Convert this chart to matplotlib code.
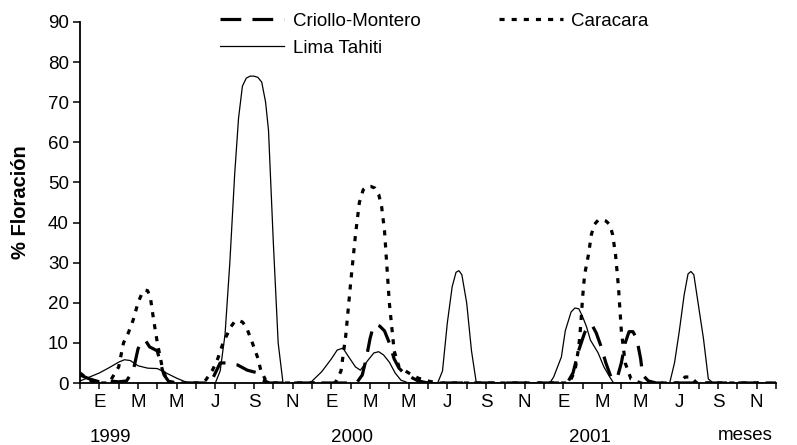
import matplotlib
matplotlib.use("Agg")
import matplotlib.pyplot as plt
from matplotlib.ticker import FixedLocator

plt.rcParams['font.family'] = ['Liberation Sans', 'DejaVu Sans']

# ---- data (x = month index, 0 = January 1999) ----
month_letters = ['E', 'M', 'M', 'J', 'S', 'N']
years = ['1999', '2000', '2001']

criollo_t = [-1.0, -0.5, 0.0, 0.5, 1.0, 1.4, 1.75, 2.0, 2.2, 2.4, 2.6, 3.0, 3.15, 3.35, 3.6, 4.0,
             5.6, 5.9, 6.25, 6.6, 7.15, 7.65, 8.2, 8.45, 8.8,
             13.3, 13.6, 13.8, 14.0, 14.15, 14.3, 14.5, 14.75, 15.0, 15.25, 15.5, 15.75, 16.1, 16.5, 17.0,
             24.2, 24.5, 24.8, 25.1, 25.3, 25.5, 25.7, 25.96, 26.2, 26.5, 26.8, 27.0, 27.2, 27.4, 27.6,
             27.8, 28.0, 28.1, 28.4, 28.8, 35.0]
criollo_v = [2.0, 1.0, 0.3, 0.5, 0.3, 0.5, 3.0, 8.5, 10.5, 10.5, 9.0, 8.0, 5.0, 2.0, 0.3, 0.0,
             0.0, 1.5, 5.0, 5.0, 4.5, 3.2, 2.5, 0.7, 0.0,
             0.0, 2.0, 6.0, 11.0, 13.8, 14.6, 14.2, 13.0, 10.0, 6.0, 3.7, 2.5, 1.5, 0.5, 0.0,
             0.0, 2.5, 8.2, 12.5, 14.3, 14.3, 12.5, 9.0, 5.0, 1.0, 1.5, 5.0, 10.0, 12.8, 12.8,
             11.0, 6.0, 2.0, 0.5, 0.0, 0.0]

caracara_t = [-1.0, -0.6, -0.2, 0.5, 1.0, 1.25, 1.5, 1.75, 2.0, 2.2, 2.35, 2.5, 2.65, 2.8, 3.0, 3.25, 3.5, 4.0,
              5.3, 5.5, 5.85, 6.1, 6.4, 6.8, 7.0, 7.2, 7.4, 7.6, 7.9, 8.2, 8.35, 8.6, 9.0,
              12.2, 12.5, 12.75, 13.0, 13.25, 13.45, 13.65, 13.85, 14.05, 14.25, 14.45, 14.6, 14.75,
              15.0, 15.25, 15.5, 16.0, 16.5, 17.0, 17.5,
              24.3, 24.6, 24.8, 24.9, 25.0, 25.1, 25.3, 25.45, 25.6, 25.8, 26.0, 26.2, 26.4, 26.55,
              26.7, 26.85, 27.0, 27.2, 27.5, 28.0, 30.0, 30.3, 30.6, 30.9, 35.0]
caracara_v = [2.5, 1.0, 0.0, 0.0, 4.0, 10.0, 12.5, 15.7, 20.0, 22.3, 23.2, 23.0, 21.0, 16.0, 10.0, 4.0, 0.5, 0.0,
              0.0, 0.7, 3.2, 5.7, 10.0, 14.0, 15.3, 15.6, 15.2, 14.0, 10.2, 6.2, 3.2, 0.7, 0.0,
              0.0, 3.0, 12.0, 25.0, 37.0, 45.0, 48.2, 49.0, 49.0, 48.6, 47.0, 44.0, 38.0,
              20.0, 8.0, 4.0, 2.5, 1.2, 0.5, 0.0,
              0.0, 3.0, 9.0, 14.5, 21.5, 27.0, 32.0, 37.0, 39.5, 40.6, 40.7, 40.4, 39.5, 37.0,
              32.0, 24.0, 13.0, 5.0, 1.0, 0.0, 0.0, 1.5, 1.5, 0.0, 0.0]

lima_t = [-1.0, -0.5, 0.0, 0.5, 1.0, 1.3, 1.6, 2.0, 2.5, 3.0, 3.5, 4.0, 4.5, 5.0, 6.0,
          6.25, 6.5, 6.75, 7.0, 7.2, 7.4, 7.6, 7.8, 8.0, 8.2, 8.4, 8.6, 8.75, 9.0, 9.25, 9.5,
          10.9, 11.5, 12.0, 12.3, 12.6, 12.9, 13.25, 13.5, 13.9, 14.2, 14.45, 14.7, 15.0, 15.3, 15.6, 16.0,
          17.5, 17.75, 18.0, 18.25, 18.45, 18.6, 18.75, 19.0, 19.25, 19.5,
          23.3, 23.5, 23.9, 24.1, 24.4, 24.6, 24.8, 25.0, 25.2, 25.4, 25.8, 26.1, 26.4, 26.6,
          29.5, 29.75, 30.0, 30.25, 30.45, 30.6, 30.75, 31.0, 31.25, 31.5, 31.75, 35.0]
lima_v = [0.5, 1.5, 2.5, 3.8, 5.2, 5.8, 5.6, 4.3, 3.7, 3.6, 2.4, 1.2, 0.2, 0.0, 0.0,
          3.0, 12.0, 30.0, 52.0, 66.0, 74.0, 76.0, 76.5, 76.5, 76.2, 75.0, 70.0, 63.0, 35.0, 10.0, 0.0,
          0.0, 2.8, 6.0, 8.2, 8.7, 6.5, 4.0, 3.2, 5.7, 7.5, 7.8, 7.0, 5.2, 2.5, 0.7, 0.0,
          0.0, 3.0, 15.0, 24.0, 27.6, 28.0, 27.0, 20.0, 8.0, 0.0,
          0.0, 1.5, 6.5, 13.0, 17.7, 18.7, 18.5, 16.5, 14.0, 10.7, 7.5, 4.0, 1.5, 0.0,
          0.0, 5.0, 13.0, 22.0, 27.2, 27.8, 27.0, 19.0, 11.0, 1.0, 0.0, 0.0]

y_ticks = [0, 10, 20, 30, 40, 50, 60, 70, 80, 90]

# ---- figure ----
W, H = 797, 445
fig = plt.figure(figsize=(W / 100, H / 100), dpi=100)
ax = fig.add_axes([80 / W, 1 - 383 / H, (776 - 80) / W, (383 - 22) / H])

lw_thick = 2.3
l1, = ax.plot(criollo_t, criollo_v, color='black', lw=lw_thick,
              linestyle=(0, (6.5, 3.5)), label='Criollo-Montero', solid_joinstyle='round')
l3, = ax.plot(caracara_t, caracara_v, color='black', lw=lw_thick,
              linestyle=(0, (1.6, 2.2)), label='Caracara')
l2, = ax.plot(lima_t, lima_v, color='black', lw=0.9, label='Lima Tahiti')

ax.set_xlim(-1, 35)
ax.set_ylim(0, 90)

for s in ['top', 'right']:
    ax.spines[s].set_visible(False)
for s in ['left', 'bottom']:
    ax.spines[s].set_linewidth(1.3)
    ax.spines[s].set_color('black')

ax.set_yticks(y_ticks)
ax.set_yticklabels([str(v) for v in y_ticks])
ax.tick_params(axis='y', direction='out', length=5, width=1.1, pad=3, labelsize=13.5)

n_years = len(years)
label_pos = [12 * i + 2 * j for i in range(n_years) for j in range(len(month_letters))]
label_txt = [month_letters[j] for i in range(n_years) for j in range(len(month_letters))]
ax.set_xticks(label_pos)
ax.set_xticklabels(label_txt)
ax.xaxis.set_minor_locator(FixedLocator([m for m in range(-1, 36) if m not in label_pos]))
ax.tick_params(axis='x', which='both', direction='out', length=4, width=1.1, pad=4, labelsize=13.5)

ax.set_ylabel('% Floración', fontsize=14.5, fontweight='bold', labelpad=13)

# year labels below months
year_x = [110, 352, 590]
for yx, yr in zip(year_x, years):
    fig.text(yx / W, 1 - 437 / H, yr, ha='center', va='center', fontsize=13.5)
fig.text(745 / W, 1 - 435 / H, 'meses', ha='center', va='center', fontsize=13.5)

leg = ax.legend(handles=[l1, l2, l3], ncol=2, frameon=False, fontsize=13.5,
                loc='upper left', bbox_to_anchor=(211 / W, 1 - 3 / H),
                bbox_transform=fig.transFigure, borderpad=0, handlelength=3.4,
                handletextpad=0.45, columnspacing=4.2, labelspacing=0.55)

fig.savefig('out.png', dpi=100)
